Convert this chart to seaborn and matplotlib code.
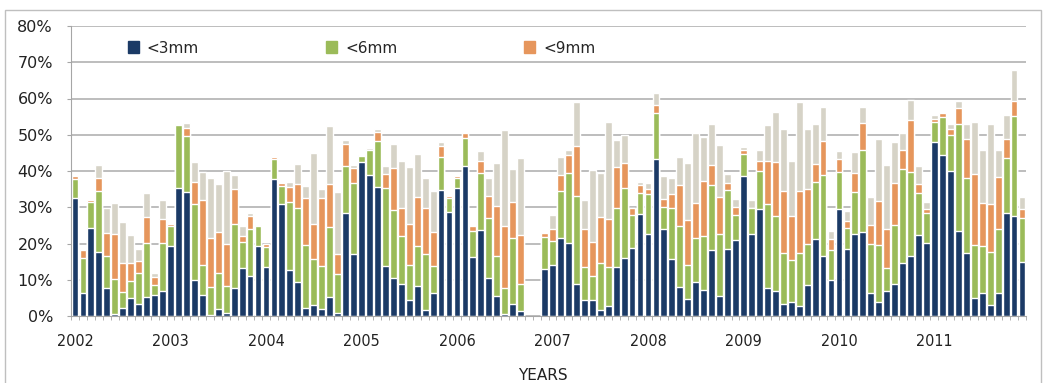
import numpy as np
import pandas as pd
import seaborn as sns
import matplotlib.pyplot as plt
from matplotlib.patches import Patch, Rectangle

nan = np.nan
years = list(range(2002, 2012))
months = [f"{y}-{m:02d}" for y in years for m in range(1, 13)]

# cumulative share (%) per month (Oct/Nov 2006 missing)
lt3 = [32.6, 6.4, 24.3, 17.7, 7.6, 0.6, 2.3, 5.1, 3.4, 5.2, 5.7, 6.8,
       19.4, 35.4, 34.3, 9.9, 5.7, 0.3, 2.0, 0.8, 7.6, 13.3, 11.0, 19.2,
       13.5, 37.8, 30.8, 12.6, 9.3, 2.3, 3.1, 2.0, 5.2, 0.9, 28.5, 17.0,
       42.4, 38.8, 35.6, 13.7, 10.5, 8.7, 4.5, 8.3, 1.6, 6.4, 34.7, 28.8,
       35.2, 41.5, 16.4, 23.8, 10.6, 5.4, 0.6, 3.2, 1.4, nan, nan, 13.1,
       14.2, 21.4, 20.2, 8.7, 4.3, 4.5, 1.6, 2.8, 13.4, 16.0, 18.8, 28.1,
       22.6, 43.2, 23.9, 15.8, 8.0, 4.7, 9.4, 7.2, 18.1, 5.4, 18.5, 20.9,
       38.7, 22.7, 29.4, 7.6, 6.9, 3.2, 3.9, 2.7, 8.5, 21.3, 16.5, 10.0,
       29.6, 18.5, 22.7, 23.3, 6.4, 3.9, 6.9, 8.7, 14.5, 16.6, 22.3, 20.2,
       48.0, 44.5, 40.1, 23.4, 17.4, 5.0, 6.4, 3.1, 6.4, 28.3, 27.7, 14.9]
lt6 = [37.8, 16.0, 31.5, 34.4, 16.5, 10.3, 6.6, 9.7, 11.9, 20.2, 8.5, 20.2,
       24.9, 52.6, 49.6, 31.0, 14.2, 8.0, 12.0, 8.4, 25.3, 20.4, 24.1, 24.9,
       18.9, 43.2, 35.9, 31.5, 29.7, 19.5, 15.7, 13.9, 24.6, 11.5, 41.4, 36.6,
       44.1, 45.8, 48.3, 35.4, 29.2, 22.0, 14.0, 19.2, 17.2, 13.9, 44.0, 32.6,
       38.2, 49.2, 23.4, 39.5, 27.1, 16.6, 7.8, 21.6, 8.9, nan, nan, 21.8,
       20.7, 34.5, 39.5, 33.1, 13.4, 11.0, 14.6, 13.4, 29.8, 35.2, 27.8, 33.9,
       33.7, 55.9, 30.1, 29.8, 24.9, 14.2, 21.5, 22.0, 36.1, 22.5, 34.7, 27.8,
       44.8, 29.9, 40.0, 31.0, 27.5, 17.4, 15.4, 17.4, 19.8, 37.0, 38.8, 18.1,
       39.8, 24.4, 34.2, 45.8, 19.8, 19.7, 13.3, 25.0, 40.5, 39.8, 33.8, 28.3,
       53.6, 55.0, 49.9, 52.9, 38.1, 19.7, 19.4, 17.7, 23.9, 43.5, 55.2, 27.1]
lt9 = [38.7, 18.2, 32.0, 38.0, 23.0, 22.7, 14.5, 14.6, 15.1, 27.4, 10.8, 26.7,
       25.4, 53.1, 51.9, 37.1, 31.9, 21.4, 23.2, 20.0, 34.9, 22.0, 27.5, 25.2,
       19.8, 43.9, 36.7, 35.6, 36.3, 32.6, 25.3, 32.6, 36.3, 17.2, 47.5, 40.9,
       44.3, 45.9, 50.8, 39.3, 40.7, 29.8, 25.3, 32.9, 29.8, 23.2, 46.9, 33.1,
       38.6, 50.4, 24.7, 42.7, 33.1, 30.3, 24.9, 31.5, 22.3, nan, nan, 22.9,
       23.9, 38.8, 44.5, 46.9, 24.1, 20.4, 27.2, 26.8, 41.2, 42.3, 29.8, 36.1,
       34.9, 58.2, 32.3, 33.6, 36.1, 26.6, 31.3, 37.2, 41.6, 32.9, 36.8, 30.1,
       45.8, 29.9, 42.8, 42.8, 42.4, 34.5, 27.7, 34.5, 34.9, 41.8, 48.3, 21.2,
       43.4, 26.2, 39.5, 53.3, 25.2, 31.7, 24.1, 36.7, 45.8, 54.2, 36.4, 29.4,
       54.4, 55.9, 51.5, 57.5, 48.9, 39.1, 31.3, 31.0, 38.4, 48.7, 59.4, 29.4]
total = [38.7, 18.2, 32.0, 41.6, 29.7, 31.3, 25.9, 22.3, 18.6, 33.8, 11.9, 32.0,
         25.4, 53.1, 53.2, 42.6, 39.8, 38.0, 36.4, 40.0, 38.9, 24.8, 28.3, 25.2,
         19.8, 43.9, 36.7, 36.9, 41.9, 35.8, 45.0, 34.9, 52.4, 34.3, 48.5, 41.6,
         44.3, 46.4, 51.6, 41.3, 47.4, 42.8, 41.1, 44.8, 38.2, 34.5, 47.9, 33.1,
         38.6, 50.4, 24.7, 45.6, 38.1, 42.3, 51.3, 40.5, 43.7, nan, nan, 22.9,
         27.8, 43.9, 45.9, 59.1, 32.1, 40.4, 39.5, 53.6, 48.5, 49.9, 29.8, 37.0,
         36.6, 61.4, 38.6, 38.2, 43.9, 42.3, 50.6, 49.4, 53.1, 47.3, 39.1, 32.4,
         46.6, 32.0, 45.8, 52.7, 56.4, 51.7, 42.8, 59.1, 51.7, 52.9, 57.6, 23.4,
         45.5, 28.9, 45.3, 57.6, 32.9, 48.7, 41.6, 48.1, 50.6, 59.6, 41.3, 31.5,
         55.5, 55.9, 52.9, 59.4, 53.1, 53.6, 45.8, 52.9, 45.8, 55.5, 67.9, 32.9]

df = pd.DataFrame({"month": months, "<3mm": lt3, "<6mm": lt6,
                   "<9mm": lt9, "all": total})

colors = {"all": "#D6D3C7", "<9mm": "#E6965C", "<6mm": "#9BBB59", "<3mm": "#1B3A66"}

sns.set_style("white")
plt.rcParams['font.family'] = ['DejaVu Sans']

fig = plt.figure(figsize=(10.46, 3.83), dpi=100)
ax = fig.add_axes([71/1046, 67/383, 955/1046, 290/383])

# overlapping bars from tallest to shortest give the stacked look
for col in ["all", "<9mm", "<6mm", "<3mm"]:
    sns.barplot(data=df, x="month", y=col, order=months, color=colors[col],
                saturation=1, width=0.86, errorbar=None, ax=ax)

ax.set_xlim(-0.5, len(months) - 0.5)
ax.set_ylim(0, 80)
ax.set_yticks(range(0, 81, 10))
ax.set_yticklabels([f"{v}%" for v in range(0, 81, 10)])
ax.set_xticks(range(0, len(months), 12))
ax.set_xticklabels([str(y) for y in years], fontstretch="condensed")
ax.set_xticks(np.arange(-0.5, len(months), 1), minor=True)
ax.set_xlabel("")
ax.set_ylabel("")

ax.yaxis.grid(True, color="#ABABAB", lw=1.1)
ax.set_axisbelow(True)
for s in ["top", "right"]:
    ax.spines[s].set_visible(False)
for s in ["left", "bottom"]:
    ax.spines[s].set_color("#A6A6A6")
ax.tick_params(axis="y", length=3, color="#A6A6A6", pad=10, labelsize=11.5,
               labelcolor="#222222", direction="out", left=True)
ax.tick_params(axis="x", which="major", length=0, pad=13, labelsize=11.5,
               labelcolor="#222222")
ax.tick_params(axis="x", which="minor", length=3, color="#A6A6A6",
               direction="out", bottom=True)

handles = [Patch(color=colors[k], label=k) for k in ["<3mm", "<6mm", "<9mm"]]
ax.legend(handles=handles, ncol=3, loc="center left", bbox_to_anchor=(0.045, 0.924),
          frameon=False, fontsize=11, handlelength=0.75, handleheight=0.85,
          handletextpad=0.5, columnspacing=8.3)

fig.text(0.519, 0.02, "YEARS", ha="center", va="center", fontsize=11, color="#222222")
fig.patches.append(Rectangle((5/1046, -0.05), 1036/1046, 373/383 + 0.05,
                             transform=fig.transFigure, fill=False,
                             edgecolor="#BFBFBF", lw=1))

fig.savefig("out.png", dpi=100)
